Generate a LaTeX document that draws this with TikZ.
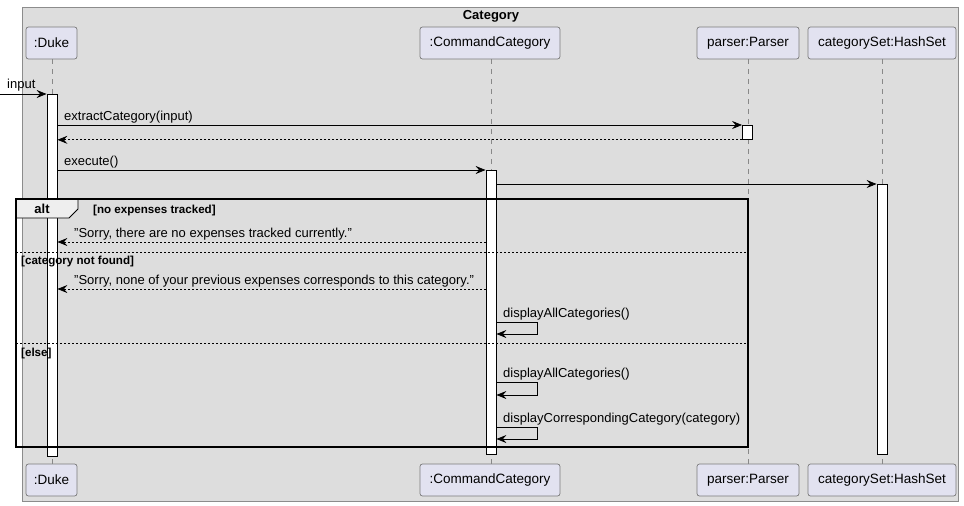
\documentclass[tikz,border=0pt]{standalone}
\usepackage{fontspec}
\setmainfont{Liberation Sans}
\usetikzlibrary{arrows.meta}
\definecolor{boxbg}{HTML}{DDDDDD}
\definecolor{boxln}{HTML}{8C8C8C}
\definecolor{partfill}{HTML}{E2E2F0}
\definecolor{partline}{HTML}{7A7A7A}
\definecolor{tabfill}{HTML}{EEEEEE}
\definecolor{lifeln}{HTML}{888888}
\begin{document}
\begin{tikzpicture}[x=1pt,y=-1pt,
  part/.style={draw=partline, fill=partfill, rounded corners=2.5pt, minimum height=32pt, inner sep=0pt, line width=0.7pt, font=\fontsize{13.5}{15}\selectfont},
  actbar/.style={draw=black, fill=white, minimum width=10pt, inner sep=0pt, line width=0.8pt},
  msg/.style={draw=black, line width=0.8pt, -{Stealth[length=10pt,width=8pt,inset=3.5pt]}},
  ret/.style={msg, dash pattern=on 2pt off 2pt},
  lbl/.style={font=\fontsize{13}{15}\selectfont, anchor=base west, inner sep=0pt},
  guard/.style={font=\bfseries\fontsize{11.6}{13}\selectfont, anchor=base west, inner sep=0pt},
  lifeline/.style={draw=lifeln, dash pattern=on 5pt off 5pt, line width=0.6pt},
  sep/.style={draw=black, dash pattern=on 2pt off 2pt, line width=0.6pt}]
\useasboundingbox (0,0) rectangle (964,506);
\fill[white] (0,0) rectangle (964,506);
% outer box
\draw[boxln, fill=boxbg, line width=0.8pt] (22,7) rectangle (958.5,501);
\node[font=\bfseries\fontsize{13}{15}\selectfont] (title) at (491,16.5) {Category};
% participants
\node[part, minimum width=51pt] (dukeT) at (51.5,43) {:Duke};
\node[part, minimum width=140pt] (ccT) at (490,43) {:CommandCategory};
\node[part, minimum width=102pt] (parT) at (748,43) {parser:Parser};
\node[part, minimum width=148pt] (csT) at (882,43) {categorySet:HashSet};
\node[part, minimum width=51pt] (dukeB) at (51.5,480) {:Duke};
\node[part, minimum width=140pt] (ccB) at (490,480) {:CommandCategory};
\node[part, minimum width=102pt] (parB) at (748,480) {parser:Parser};
\node[part, minimum width=148pt] (csB) at (882,480) {categorySet:HashSet};
% lifelines
\draw[lifeline] (dukeT.south -| 52,0) -- (dukeB.north -| 52,0);
\draw[lifeline] (ccT.south -| 491,0) -- (ccB.north -| 491,0);
\draw[lifeline] (parT.south) -- (parB.north);
\draw[lifeline] (csT.south) -- (csB.north);
% activation bars
\node[actbar, minimum height=362pt, anchor=north] (dukebar) at (52,94) {};
\node[actbar, minimum height=14pt, anchor=north] (parbar) at (747.5,125) {};
\node[actbar, minimum height=284pt, anchor=north] (ccbar) at (491,170) {};
\node[actbar, minimum height=270pt, anchor=north] (csbar) at (882,184) {};
% messages
\coordinate (inp) at (0,94);
\draw[msg] (inp) -- (dukebar.north west);
\node[lbl] (inlbl) at (7,88) {input};
\draw[msg] (dukebar.east |- parbar.north) -- (parbar.north west);
\node[lbl] (m1) at (64,120) {extractCategory(input)};
\draw[ret] (parbar.south west) -- (dukebar.east |- parbar.south);
\draw[msg] (dukebar.east |- ccbar.north) -- (ccbar.north west);
\node[lbl] (m2) at (64,165) {execute()};
\draw[msg] (ccbar.east |- csbar.north) -- (csbar.north west);
% alt contents
\coordinate (r1) at (0,242);
\draw[ret] (ccbar.west |- r1) -- (dukebar.east |- r1);
\node[lbl] (m3) at (74,237) {"Sorry, there are no expenses tracked currently."};
\coordinate (r2) at (0,289);
\draw[ret] (ccbar.west |- r2) -- (dukebar.east |- r2);
\node[lbl] (m4) at (74,284) {"Sorry, none of your previous expenses corresponds to this category."};
\coordinate (s1a) at (537,322);
\coordinate (s1b) at (537,334);
\draw[msg] (ccbar.east |- s1a) -- (s1a) -- (s1b) -- (ccbar.east |- s1b);
\node[lbl] (m5) at (503,317) {displayAllCategories()};
\coordinate (s2a) at (537,382);
\coordinate (s2b) at (537,395);
\draw[msg] (ccbar.east |- s2a) -- (s2a) -- (s2b) -- (ccbar.east |- s2b);
\node[lbl] (m6) at (503,377) {displayAllCategories()};
\coordinate (s3a) at (537,427);
\coordinate (s3b) at (537,439);
\draw[msg] (ccbar.east |- s3a) -- (s3a) -- (s3b) -- (ccbar.east |- s3b);
\node[lbl] (m7) at (503,422) {displayCorrespondingCategory(category)};
% alt frame
\draw[fill=tabfill, draw=black, line width=0.8pt] (16,199) -- (78,199) -- (78,209) -- (69,218) -- (16,218) -- cycle;
\node[font=\bfseries\fontsize{13}{15}\selectfont] (alt) at (42,209) {alt};
\node[guard] (g1) at (93,213.5) {[no expenses tracked]};
\draw[sep] (16,252) -- (748,252);
\node[guard] (g2) at (21,264) {[category not found]};
\draw[sep] (16,343) -- (748,343);
\node[guard] (g3) at (21,356) {[else]};
\draw[black, line width=1.6pt] (16,199) rectangle (748,447);
\end{tikzpicture}
\end{document}
